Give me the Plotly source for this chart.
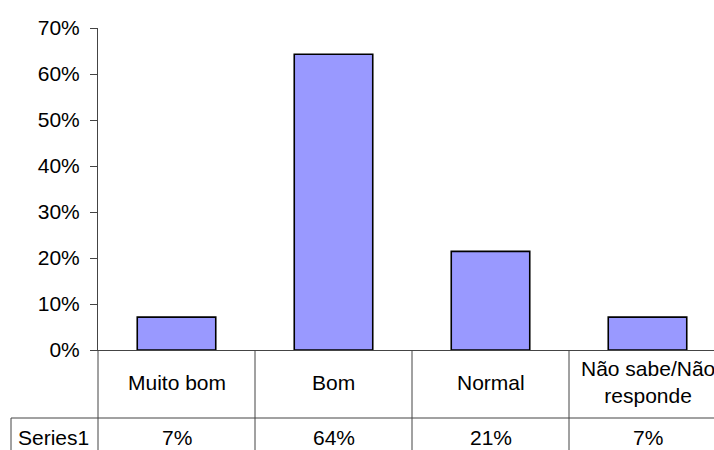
import plotly.graph_objects as go

# Survey results
categories = ["Muito bom", "Bom", "Normal", "Não sabe/Não<br>responde"]
series_name = "Series1"
values = [0.0714, 0.6429, 0.2143, 0.0714]
y_ticks = [0, 0.1, 0.2, 0.3, 0.4, 0.5, 0.6, 0.7]

W, H = 714, 450
ML, MT, MB = 98, 28, 100
plot_w = W - ML
plot_h = H - MT - MB
cat_px = 157  # width of one category column in pixels

x0 = -0.5
x1 = x0 + plot_w / cat_px

FONT = "Liberation Sans, Arial, sans-serif"
LINE = "#444444"


def xp(xd):
    """data x -> paper x"""
    return (xd - x0) / (x1 - x0)


def yp(py):
    """pixel y -> paper y"""
    return (H - MB - py) / plot_h


fig = go.Figure()
fig.add_trace(go.Bar(
    x=list(range(len(categories))),
    y=values,
    marker=dict(color="#9999FF", line=dict(color="black", width=1.6)),
    width=0.5,
    name=series_name,
))

shapes = []
row_top = yp(418)
bottom = yp(H + 2)
# vertical grid of the data table (axis line continued + category boundaries)
for b in [x0] + [i + 0.5 for i in range(len(categories) - 1)]:
    shapes.append(dict(type="line", xref="paper", yref="paper",
                       x0=xp(b), x1=xp(b), y0=0, y1=bottom,
                       line=dict(color=LINE, width=1)))
# row separator and row-label cell border
lbl_left = (11 - ML) / plot_w
shapes.append(dict(type="line", xref="paper", yref="paper",
                   x0=lbl_left, x1=1.02, y0=row_top, y1=row_top,
                   line=dict(color=LINE, width=1)))
shapes.append(dict(type="line", xref="paper", yref="paper",
                   x0=lbl_left, x1=lbl_left, y0=row_top, y1=bottom,
                   line=dict(color=LINE, width=1)))

annotations = []
for i, c in enumerate(categories):
    annotations.append(dict(x=i, y=yp(382), xref="x", yref="paper",
                            text=c, showarrow=False,
                            font=dict(family=FONT, size=21, color="black"),
                            xanchor="center", yanchor="middle"))
    annotations.append(dict(x=i, y=yp(437), xref="x", yref="paper",
                            text=f"{round(values[i] * 100)}%", showarrow=False,
                            font=dict(family=FONT, size=21, color="black"),
                            xanchor="center", yanchor="middle"))
annotations.append(dict(x=(53 - ML) / plot_w, y=yp(437), xref="paper", yref="paper",
                        text=series_name, showarrow=False,
                        font=dict(family=FONT, size=21, color="black"),
                        xanchor="center", yanchor="middle"))

fig.update_layout(
    width=W, height=H,
    margin=dict(l=ML, r=0, t=MT, b=MB, autoexpand=False),
    paper_bgcolor="white", plot_bgcolor="white",
    showlegend=False,
    shapes=shapes,
    annotations=annotations,
    xaxis=dict(range=[x0, x1], showticklabels=False, showgrid=False,
               zeroline=False, showline=True, linecolor=LINE, linewidth=1,
               ticks=""),
    yaxis=dict(range=[0, 0.7], tickvals=y_ticks, tickformat=".0%",
               showgrid=False, zeroline=False, showline=True,
               linecolor=LINE, linewidth=1, ticks="outside", ticklen=7,
               tickcolor=LINE, ticklabelstandoff=6,
               tickfont=dict(family=FONT, size=21, color="black")),
)

fig.write_html("out.html")
